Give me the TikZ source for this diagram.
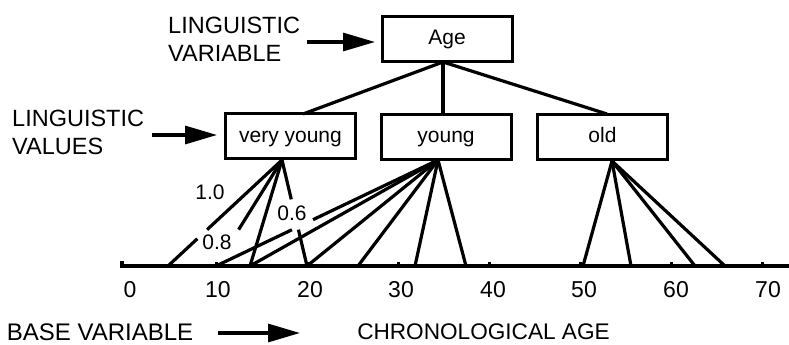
\documentclass[tikz,border=0pt]{standalone}
\usepackage{fontspec}
\setmainfont{Liberation Sans}
\usetikzlibrary{arrows.meta,calc}
\begin{document}
\begin{tikzpicture}[x=1pt,y=-1pt,
  box/.style={draw, line width=3pt, minimum width=130pt, minimum height=45pt, inner sep=0pt, text height=16pt, text depth=4pt, font=\fontsize{21}{25}\selectfont},
  ln/.style={line width=3.2pt},
  big/.style={font=\fontsize{23.5}{28}\selectfont, inner sep=0pt, align=left, anchor=north west},
  num/.style={font=\fontsize{23}{27}\selectfont, inner sep=0pt},
  grade/.style={font=\fontsize{21}{25}\selectfont, inner sep=0pt},
  pointer/.style={line width=3.2pt, -{Triangle[length=32pt,width=18pt]}},
]
\useasboundingbox (0,0) rectangle (789,345);

% boxes
\node[box] (age) at (447,39) {Age};
\node[box] (vy) at (290.5,136) {very young};
\node[box] (yg) at (446,136.5) {young};
\node[box] (old) at (602.5,136.5) {old};

% tree connections
\coordinate (agefoot) at (443,62);
\coordinate (vytop) at (303,114);
\coordinate (ygtop) at (443,114);
\coordinate (oldtop) at (607,114);
\draw[ln] (agefoot) -- (vytop);
\draw[ln] (agefoot) -- (ygtop);
\draw[ln] (agefoot) -- (oldtop);

% side labels
\node[big] (lvar) at (168,17) {LINGUISTIC\\VARIABLE};
\node[big] (lval) at (12,110) {LINGUISTIC\\VALUES};
\coordinate (a1s) at (307,42);
\coordinate (a1e) at (375,42);
\coordinate (a2s) at (152,135);
\coordinate (a2e) at (217,135);
\draw[pointer] (a1s) -- (a1e);
\draw[pointer] (a2s) -- (a2e);

% axis
\draw[ln] (122,261) -- (122,266) -- (789,266);
\foreach \v in {1,...,7} {
  \draw[ln] ({125+9.11*\v*10},266) -- ({125+9.11*\v*10},262);
}
\foreach \v/\xx in {0/130,10/218,20/310,30/401,40/493,50/584,60/676,70/768} {
  \node[num] (n\v) at (\xx,290) {\v};
}

% feet of the value boxes
\coordinate (vf) at (282,160);
\coordinate (yf) at (438,160);
\coordinate (of) at (612,161);

% points on the axis
\coordinate (p5) at (168,266);
\coordinate (p10) at (216,266);
\coordinate (p14) at (250,266);
\coordinate (p20) at (307,266);
\coordinate (p25) at (358,266);
\coordinate (p32) at (415,266);
\coordinate (p37) at (466,266);
\coordinate (p50) at (583,266);
\coordinate (p55) at (631,266);
\coordinate (p62) at (695,266);
\coordinate (p66) at (725,266);

% very young
\draw[ln] (vf) -- ($(vf)!0.657!(p5)$) ($(vf)!0.743!(p5)$) -- (p5);
\draw[ln] (vf) -- ($(vf)!0.657!(p10)$);
\draw[ln] (vf) -- (p14);
\draw[ln] (vf) -- ($(vf)!0.371!(p20)$) ($(vf)!0.657!(p20)$) -- (p20);

% young
\draw[ln] (yf) -- ($(yf)!0.563!(p10)$) ($(yf)!0.658!(p10)$) -- (p10);
\draw[ln] (yf) -- (p14);
\draw[ln] (yf) -- (p20);
\draw[ln] (yf) -- (p25);
\draw[ln] (yf) -- (p32);
\draw[ln] (yf) -- (p37);

% old
\draw[ln] (of) -- (p50);
\draw[ln] (of) -- (p55);
\draw[ln] (of) -- (p62);
\draw[ln] (of) -- (p66);

% grades
\node[grade] (g10) at (210,192) {1.0};
\node[grade] (g08) at (217,242) {0.8};
\node[grade] (g06) at (292,213) {0.6};

% bottom
\node[font=\fontsize{24}{28}\selectfont, inner sep=0pt] (base) at (100,332) {BASE VARIABLE};
\node[font=\fontsize{22.6}{27}\selectfont, inner sep=0pt] (chron) at (483.5,332) {CHRONOLOGICAL AGE};
\coordinate (a3s) at (218,333);
\coordinate (a3e) at (300,333);
\draw[pointer] (a3s) -- (a3e);
\end{tikzpicture}
\end{document}
